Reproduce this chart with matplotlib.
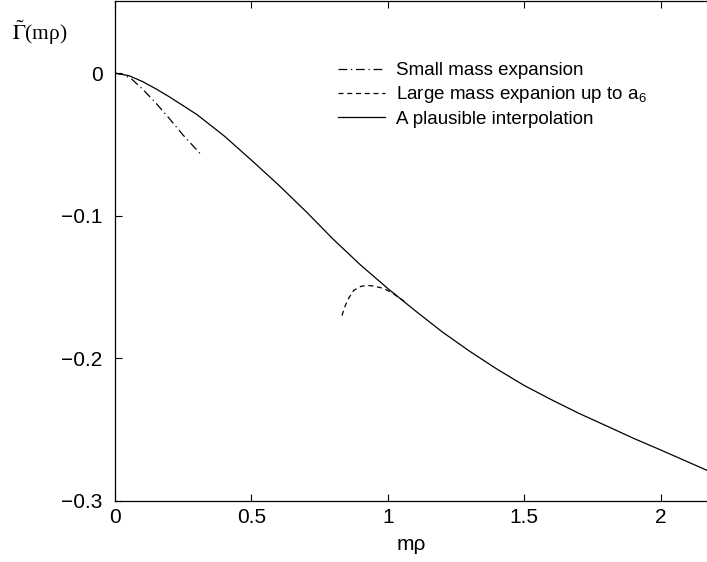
import numpy as np
import matplotlib.pyplot as plt
from matplotlib.ticker import FuncFormatter

plt.rcParams['font.family'] = ['Liberation Sans', 'DejaVu Sans']
plt.rcParams['mathtext.fontset'] = 'custom'
plt.rcParams['mathtext.rm'] = 'Liberation Sans'

# small mass expansion (dash-dot)
small_x = [0, 0.03, 0.06, 0.1, 0.15, 0.2, 0.25, 0.32]
small_y = [0, -0.001, -0.004, -0.011, -0.021, -0.032, -0.0435, -0.058]

# large mass expansion up to a6 (dashed)
large_x = [0.832, 0.843, 0.856, 0.875, 0.9, 0.924, 0.95, 0.985, 1.015, 1.046, 1.06]
large_y = [-0.170, -0.1635, -0.158, -0.1523, -0.1496, -0.1488, -0.1493, -0.151, -0.154, -0.158, -0.160]

# plausible interpolation (solid)
interp_x = [0, 0.05, 0.1, 0.15, 0.2, 0.3, 0.4, 0.5, 0.6, 0.7, 0.8, 0.9, 1.0, 1.1, 1.2, 1.3,
            1.4, 1.5, 1.6, 1.7, 1.8, 1.9, 2.0, 2.17]
interp_y = [0, -0.0017, -0.0058, -0.011, -0.0167, -0.029, -0.044, -0.061, -0.0785, -0.097,
            -0.1165, -0.1345, -0.151, -0.1665, -0.1815, -0.195, -0.2075, -0.219, -0.229,
            -0.2385, -0.2472, -0.256, -0.2642, -0.2785]

labels = ['Small mass expansion', 'Large mass expanion up to a$_6$', 'A plausible interpolation']

fig = plt.figure(figsize=(7.07, 5.62), dpi=100)
ax = fig.add_axes([115/707, 61/562, 1 - 115/707, 1 - 61/562 - 0.002])

ax.plot(small_x, small_y, color='k', lw=0.9, dashes=(7, 3, 1, 3), label=labels[0])
ax.plot(large_x, large_y, color='k', lw=0.9, dashes=(4, 3), label=labels[1])
ax.plot(interp_x, interp_y, color='k', lw=0.9, label=labels[2])

ax.set_xlim(0, 2.17)
ax.set_ylim(-0.3, 0.0505)
ax.set_xticks([0, 0.5, 1, 1.5, 2])
ax.set_yticks([0, -0.1, -0.2, -0.3])
fmt = FuncFormatter(lambda v, p: ('%g' % v).replace('-', '\u2212'))
ax.xaxis.set_major_formatter(fmt)
ax.yaxis.set_major_formatter(fmt)
ax.spines['right'].set_visible(False)
ax.tick_params(direction='in', length=5, width=0.8, labelsize=15, top=True, right=False)
ax.tick_params(axis='x', pad=5)
ax.tick_params(axis='y', pad=9)
for s in ['left', 'bottom', 'top']:
    ax.spines[s].set_linewidth(0.9)

ax.set_xlabel('m\u03c1', fontsize=15, labelpad=6)
fig.text(12/707, 1 - 33/562, '$\\tilde{\\Gamma}$(m\u03c1)', fontsize=15.5, va='center', ha='left',
         family='Liberation Serif', math_fontfamily='stix')

ax.legend(loc='upper left', bbox_to_anchor=(338/707, 1 - 62/562), bbox_transform=fig.transFigure,
          frameon=False, fontsize=13.5, handlelength=2.5, handletextpad=0.6,
          labelspacing=0.28, borderpad=0, borderaxespad=0)

fig.savefig('out.png', dpi=100)
